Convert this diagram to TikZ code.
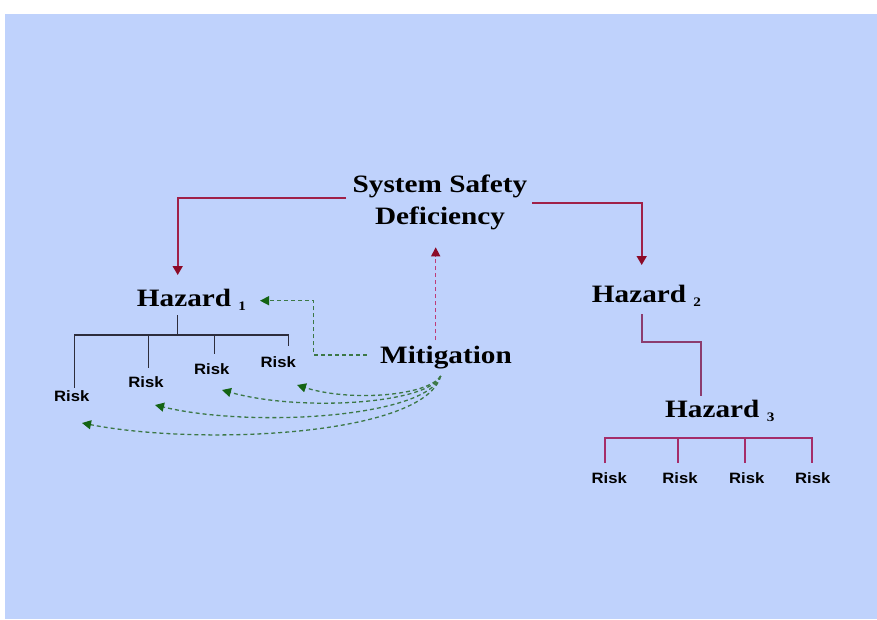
\documentclass[tikz,border=0pt]{standalone}
\usepackage{fontspec}
\setmainfont[FakeStretch=1.17]{Liberation Serif}
\setsansfont[FakeStretch=1.11]{Liberation Sans}
\usetikzlibrary{arrows.meta}

\definecolor{slide}{RGB}{191,210,252}
\definecolor{linered}{RGB}{160,32,72}
\definecolor{tipred}{RGB}{139,10,40}
\definecolor{dashred}{RGB}{190,60,120}
\definecolor{treemag}{RGB}{165,45,105}
\definecolor{stepmag}{RGB}{140,60,110}
\definecolor{treegray}{RGB}{45,45,60}
\definecolor{dashgrn}{RGB}{60,120,70}
\definecolor{tipgrn}{RGB}{20,100,20}

\newcommand{\hzsub}[1]{~\raisebox{-4pt}{\fontsize{13}{13}\selectfont #1}}

\begin{document}
\begin{tikzpicture}
		[x=1pt,y=-1pt,
		big/.style={font=\bfseries\fontsize{25}{32}\selectfont,inner sep=0pt},
		risk/.style={font=\sffamily\bfseries\fontsize{15}{18}\selectfont,inner sep=0pt,anchor=base},
		redarr/.style={draw=linered,line width=1.6pt,-{Triangle[length=9pt,width=10pt,color=tipred]}},
		redup/.style={draw=dashred,line width=1.5pt,dash pattern=on 4pt off 3pt,-{Triangle[length=9pt,width=9pt,color=tipred]}},
		grn/.style={draw=dashgrn,line width=1.3pt,dash pattern=on 4pt off 3pt,-{Triangle[length=9pt,width=9pt,color=tipgrn]}},
		tree/.style={draw=treegray,line width=1.5pt},
		rtree/.style={draw=treemag,line width=1.7pt}]

		\useasboundingbox (0,0) rectangle (877,619);
		\fill[white] (0,0) rectangle (877,619);
		\fill[slide] (4.5,14) rectangle (877,619);

		% text
		\node[big,align=center,anchor=north] (ssd) at (440,175) {System Safety\\Deficiency};
		\node[big,anchor=base west] (h1) at (136.7,306.7) {Hazard\hzsub{1}};
		\node[big,anchor=base west] (h2) at (591.7,302.7) {Hazard\hzsub{2}};
		\node[big,anchor=base west] (h3) at (665,417.3) {Hazard\hzsub{3}};
		\node[big,anchor=base west] (mit) at (380,363.3) {Mitigation};

		\node[risk] (r1) at (71.7,401.7) {Risk};
		\node[risk] (r2) at (146,387.7) {Risk};
		\node[risk] (r3) at (211.7,374) {Risk};
		\node[risk] (r4) at (278.3,367.4) {Risk};

		\node[risk] (q1) at (609.3,483.3) {Risk};
		\node[risk] (q2) at (680,483.3) {Risk};
		\node[risk] (q3) at (746.7,483.3) {Risk};
		\node[risk] (q4) at (812.7,483.3) {Risk};

		% deficiency to hazards
		\coordinate (sl) at (346,198);
		\coordinate (sr) at (532,203);
		\coordinate (t1) at (177.7,275);
		\coordinate (t2) at (641.7,265);
		\draw[redarr] (sl) -| (t1);
		\draw[redarr] (sr) -| (t2);

		% hazard 2 to hazard 3
		\coordinate (h2f) at (642.3,314);
		\coordinate (h3h) at (701,395.7);
		\draw[draw=stepmag,line width=1.7pt] (h2f) |- (701,341.7) -- (h3h);

		% hazard 1 tree
		\coordinate (h1f) at (177.7,315);
		\coordinate (b1) at (74.3,335);
		\coordinate (b2) at (148.3,335);
		\coordinate (b3) at (214.3,335);
		\coordinate (b4) at (288.3,335);
		\draw[tree] (h1f) -- (177.7,335);
		\draw[tree] ([yshift=3pt]b1 |- r1.north) -- (b1) -- (b4) -- ([yshift=10pt]b4 |- r4.north);
		\draw[tree] (b2) -- ([yshift=9pt]b2 |- r2.north);
		\draw[tree] (b3) -- ([yshift=9pt]b3 |- r3.north);

		% hazard 3 tree
		\coordinate (c1) at (605.3,438.3);
		\coordinate (c2) at (678.3,438.3);
		\coordinate (c3) at (745,438.3);
		\coordinate (c4) at (811.7,438.3);
		\draw[rtree] ([yshift=9pt]c1 |- q1.north) -- (c1) -- (c4) -- ([yshift=9pt]c4 |- q4.north);
		\draw[rtree] (c2) -- ([yshift=9pt]c2 |- q2.north);
		\draw[rtree] (c3) -- ([yshift=9pt]c3 |- q3.north);

		% mitigation
		\coordinate (mtop) at (435.7,340);
		\coordinate (dfoot) at (435.7,247.3);
		\draw[redup] (mtop) -- (dfoot);

		\coordinate (mleft) at (366.7,355);
		\coordinate (h1tip) at (260,300.7);
		\draw[grn] (mleft) -- (313.3,355) |- (h1tip);

		\coordinate (mfoot) at (440.7,376);
		\draw[grn] (mfoot) .. controls (428,396) and (350,402) .. (297,385);
		\draw[grn] (mfoot) .. controls (428,404) and (300,412) .. (222,390);
		\draw[grn] (mfoot) .. controls (426,418) and (250,428) .. (155,405);
		\draw[grn] (mfoot) .. controls (424,436) and (200,446) .. (82,423);
\end{tikzpicture}
\end{document}
